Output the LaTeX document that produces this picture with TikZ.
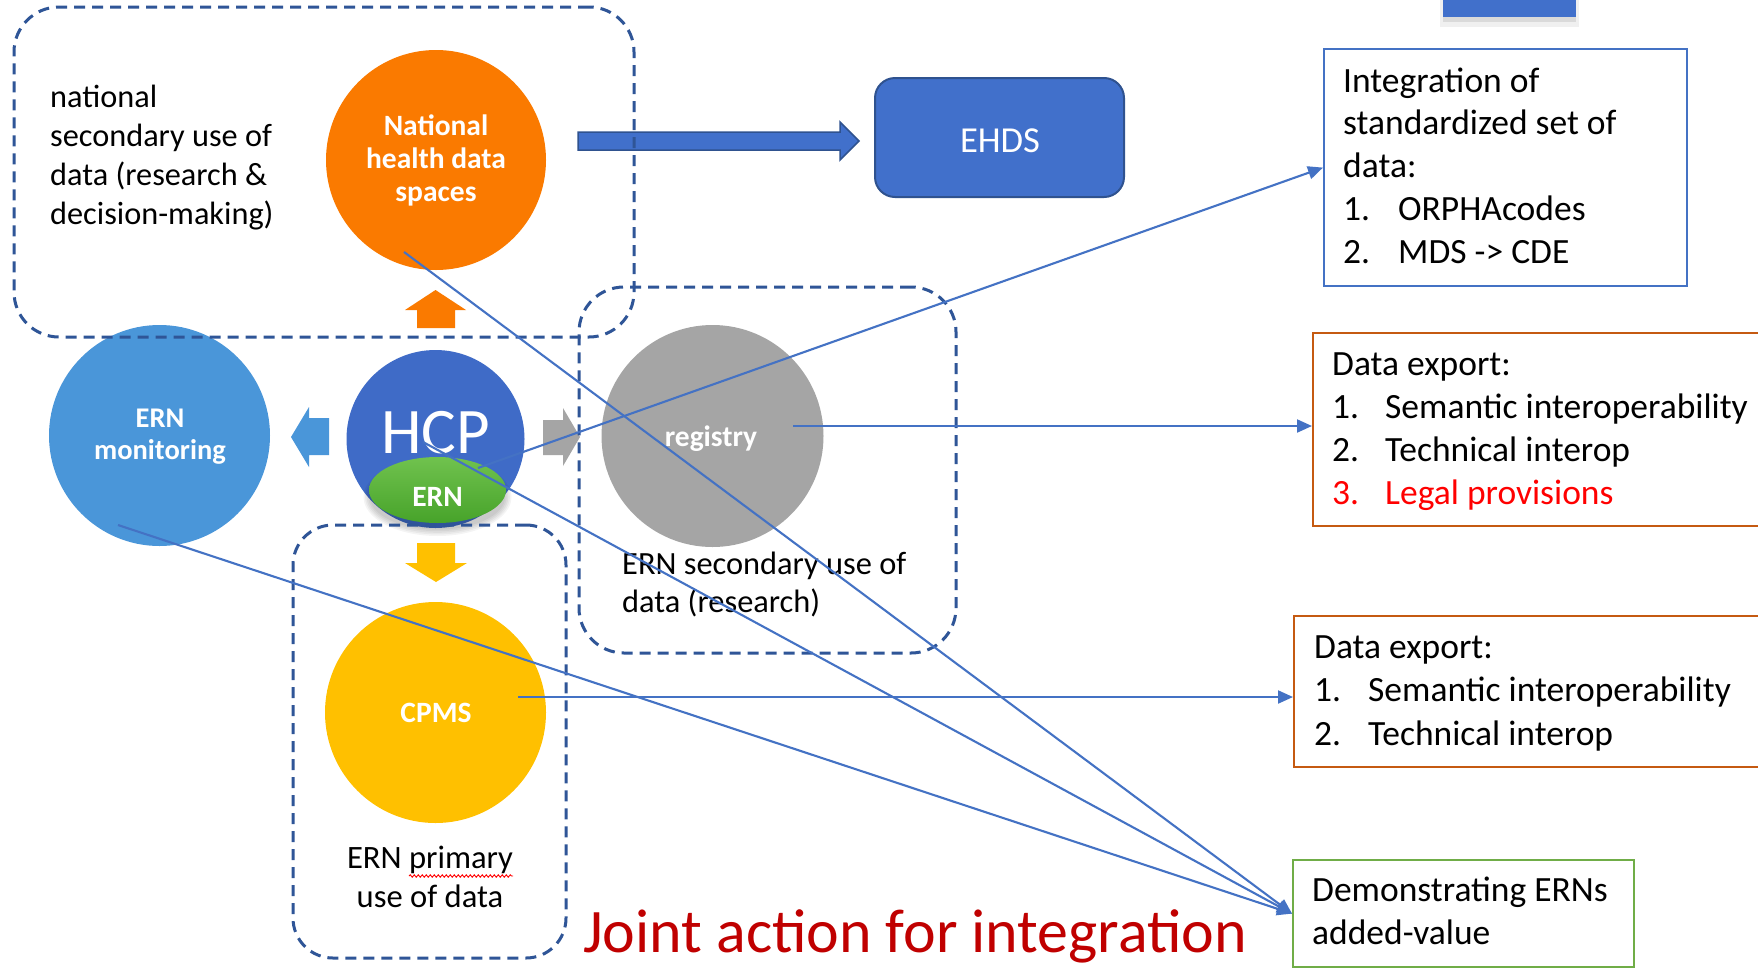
\documentclass[tikz,border=0pt]{standalone}
\usepackage{fontspec}
\setmainfont{Carlito}
\usetikzlibrary{arrows.meta,calc,decorations.pathmorphing,shapes.geometric}
\definecolor{dashblue}{HTML}{2F5597}
\definecolor{lineblue}{HTML}{4472C4}
\definecolor{hcpblue}{HTML}{3F6BC7}
\definecolor{ehdsblue}{HTML}{4170CB}
\definecolor{ehdsborder}{HTML}{2F528F}
\definecolor{natorange}{HTML}{FA7A00}
\definecolor{ernlblue}{HTML}{4A96D9}
\definecolor{reggray}{HTML}{A5A5A5}
\definecolor{cpmsyellow}{HTML}{FFC000}
\definecolor{boxorange}{HTML}{C55A11}
\definecolor{boxgreen}{HTML}{70AD47}
\definecolor{ernltgreen}{HTML}{70C24E}
\definecolor{erndkgreen}{HTML}{47A32A}
\definecolor{jointred}{HTML}{C00000}
\definecolor{legalred}{HTML}{FF0000}
\tikzset{
  disc/.style={circle, inner sep=0pt, minimum size=#1, draw=none},
  dashbox/.style={draw=dashblue, line width=3pt, dash pattern=on 11pt off 7pt, rounded corners=45pt, inner sep=0pt},
  conn/.style={draw=lineblue, line width=2.1pt, -{Triangle[length=15pt,width=13pt]}},
  infobox/.style={rectangle, inner sep=0pt, line width=2.2pt, anchor=north west},
  wtext/.style={text=white, inner sep=0pt},
  btext/.style={text=black, inner sep=0pt},
}
\begin{document}
\begin{tikzpicture}[x=1pt,y=-1pt]
\useasboundingbox (0,0) rectangle (1758,967);
\clip (0,0) rectangle (1758,967);
\fill[white] (0,0) rectangle (1758,967);

% partial box at the top right
\fill[black,opacity=0.06] (1440,-5) rectangle (1579,27);
\fill[black,opacity=0.09] (1443,-5) rectangle (1576,22);
\node[rectangle, fill=ehdsblue, inner sep=0pt, minimum width=133pt, minimum height=40pt, anchor=south west] (topbox) at (1443,17) {};

% circles
\node[disc=220pt, fill=natorange] (nhds) at (436,160) {};
\node[disc=221pt, fill=ernlblue] (ernmon) at (159.5,435.5) {};
\node[disc=178pt, fill=hcpblue] (hcp) at (435.5,439) {};
\foreach \k in {1,...,5} {
  \fill[black, opacity=0.045] (437.5,497) ellipse [x radius={66pt+\k*1.6pt}, y radius={31pt+\k*1.6pt}];
}
\node[ellipse, inner sep=0pt, minimum width=137pt, minimum height=66pt, top color=ernltgreen, bottom color=erndkgreen, draw=none] (ern) at (437.5,490) {};
\node[disc=222pt, fill=reggray] (reg) at (712.5,436) {};
\node[disc=221pt, fill=cpmsyellow] (cpms) at (435.5,712.5) {};

% block arrows
\fill[natorange] (417,328) -- (417,310) -- (405,310) -- (435.5,290) -- (466,310) -- (455,310) -- (455,328) -- cycle;
\fill[cpmsyellow] (417,543) -- (455,543) -- (455,563) -- (467,563) -- (436,582) -- (405,563) -- (417,563) -- cycle;
\fill[ernlblue] (329,418) -- (309,418) -- (309,407) -- (291,437) -- (309,467) -- (309,455) -- (329,455) -- cycle;
\fill[reggray] (543,420) -- (563,420) -- (563,408) -- (580,437) -- (563,466) -- (563,455) -- (543,455) -- cycle;
\filldraw[fill=ehdsblue, draw=ehdsborder, line width=1.5pt] (578,132) -- (840,132) -- (840,122) -- (859,141) -- (840,160) -- (840,150) -- (578,150) -- cycle;

% EHDS
\node[rectangle, rounded corners=20pt, minimum width=249pt, minimum height=119pt, fill=ehdsblue, draw=ehdsborder, line width=2pt] (ehds) at (999.5,137.5) {};

% circle labels
\node[wtext, anchor=base, font=\fontsize{29.5}{33}\selectfont\bfseries] (nhdslbl) at (436,135) {\begin{tabular}[t]{@{}c@{}}National\\health data\\spaces\end{tabular}};
\node[wtext, anchor=base, font=\fontsize{28.5}{32}\selectfont\bfseries] (ernmonlbl) at (160,427) {\begin{tabular}[t]{@{}c@{}}ERN\\monitoring\end{tabular}};
\node[wtext, anchor=base, font=\fontsize{65}{70}\selectfont] (hcplbl) at (435.5,453) {HCP};
\node[wtext, anchor=base, font=\fontsize{29.5}{34}\selectfont\bfseries] (ernlbl) at (437.5,506) {ERN};
\node[wtext, anchor=base, font=\fontsize{29.5}{34}\selectfont\bfseries] (reglbl) at (711,446) {registry};
\node[wtext, anchor=base, font=\fontsize{29.5}{34}\selectfont\bfseries] (cpmslbl) at (436,722) {CPMS};
\node[wtext, anchor=base, font=\fontsize{36.6}{40}\selectfont] (ehdslbl) at (1000,152) {EHDS};

% group texts
\node[btext, anchor=base west, font=\fontsize{32.3}{39}\selectfont] (nattext) at (50,107) {\begin{tabular}[t]{@{}l@{}}national\\secondary use of\\data (research \&\\decision-making)\end{tabular}};
\node[btext, anchor=base west, font=\fontsize{32.4}{38.5}\selectfont] (sectext) at (622,574) {\begin{tabular}[t]{@{}l@{}}ERN secondary use of\\data (research)\end{tabular}};
\node[btext, anchor=base, font=\fontsize{32.6}{39}\selectfont] (primtext) at (430,868) {\begin{tabular}[t]{@{}c@{}}ERN primary\\use of data\end{tabular}};
\draw[legalred, line width=0.9pt, decorate, decoration={snake, amplitude=1.2pt, segment length=4pt}] (409,876) -- (513,876);

% dashed groups
\node[dashbox, minimum width=620pt, minimum height=330pt] (natgroup) at (324,172) {};
\node[dashbox, minimum width=377pt, minimum height=366pt] (secgroup) at (767.5,470) {};
\node[dashbox, rounded corners=40pt, minimum width=273pt, minimum height=433pt] (primgroup) at (429.5,741.5) {};

% right boxes
\node[infobox, draw=lineblue, minimum width=363pt, minimum height=237pt] (box1) at (1323,48) {};
\node[infobox, draw=boxorange, minimum width=463pt, minimum height=193pt] (box2) at (1312,332) {};
\node[infobox, draw=boxorange, minimum width=482pt, minimum height=151pt] (box3) at (1293,615) {};
\node[infobox, draw=boxgreen, minimum width=341pt, minimum height=107pt] (box4) at (1292,859) {};

\node[btext, anchor=base west, font=\fontsize{35.5}{42.8}\selectfont] (box1txt) at (1343,92) {\begin{tabular}[t]{@{}p{55pt}@{}l@{}}\multicolumn{2}{@{}l@{}}{Integration of}\\ \multicolumn{2}{@{}l@{}}{standardized set of}\\ \multicolumn{2}{@{}l@{}}{data:}\\ 1. & ORPHAcodes\\ 2. & MDS -> CDE\end{tabular}};
\node[btext, anchor=base west, font=\fontsize{35.5}{43}\selectfont] (box2txt) at (1332,375) {\begin{tabular}[t]{@{}p{53pt}@{}l@{}}\multicolumn{2}{@{}l@{}}{Data export:}\\ 1. & Semantic interoperability\\ 2. & Technical interop\\ \textcolor{legalred}{3.} & \textcolor{legalred}{Legal provisions}\end{tabular}};
\node[btext, anchor=base west, font=\fontsize{35.5}{43.5}\selectfont] (box3txt) at (1314,658) {\begin{tabular}[t]{@{}p{54pt}@{}l@{}}\multicolumn{2}{@{}l@{}}{Data export:}\\ 1. & Semantic interoperability\\ 2. & Technical interop\end{tabular}};
\node[btext, anchor=base west, font=\fontsize{35.5}{43}\selectfont] (box4txt) at (1312,901) {\begin{tabular}[t]{@{}l@{}}Demonstrating ERNs\\added-value\end{tabular}};

% title
\node[anchor=base west, inner sep=0pt, text=jointred, font=\fontsize{61.9}{70}\selectfont] (title) at (583,952) {Joint action for integration};

% connectors
\coordinate (sNat) at (404,252);
\coordinate (sHcp) at (423,442);
\coordinate (sErn) at (478,468);
\coordinate (sMon) at (118,525);
\coordinate (sReg) at (793,426);
\coordinate (sCpms) at (518,697);
\draw[conn] (sErn) -- (box1.west);
\draw[conn] (sReg) -- (sReg -| box2.west);
\draw[conn] (sCpms) -- (sCpms -| box3.west);
\draw[conn] (sNat) -- (box4.west);
\draw[conn] (sHcp) -- (box4.west);
\draw[conn] (sMon) -- (box4.west);
\end{tikzpicture}
\end{document}
